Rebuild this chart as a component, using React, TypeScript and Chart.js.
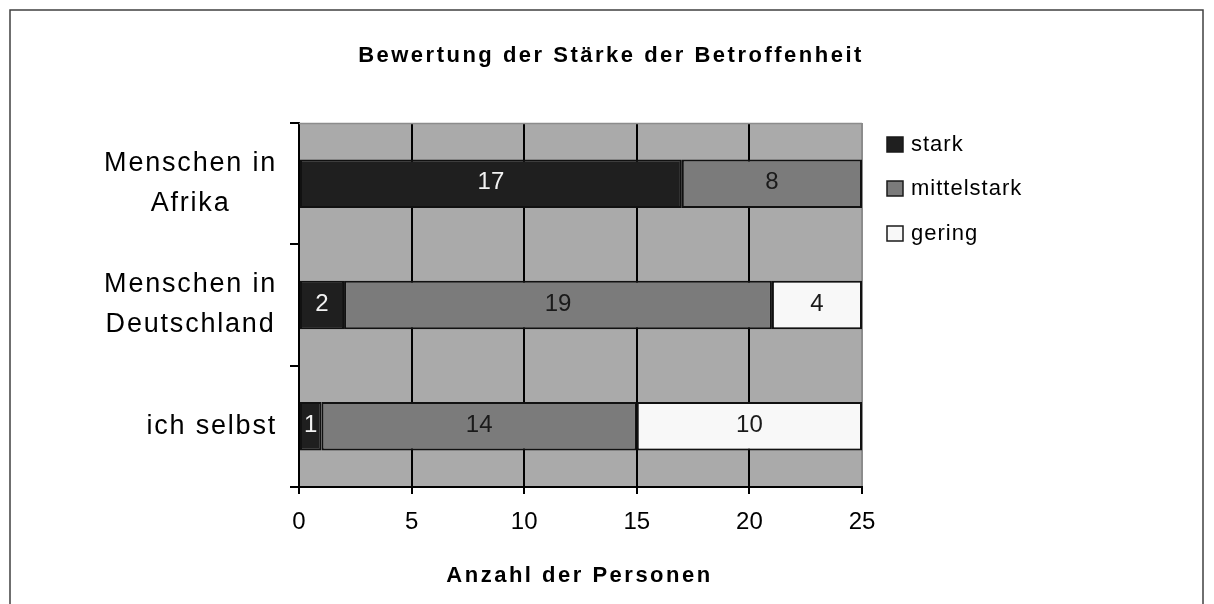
import React, { useEffect, useRef } from 'react';
import { Chart, registerables } from 'chart.js';

Chart.register(...registerables);

const chartTitle = 'Bewertung der Stärke der Betroffenheit';
const axisTitle = 'Anzahl der Personen';
const categories = [['Menschen in', 'Afrika'], ['Menschen in', 'Deutschland'], ['ich selbst']];
const seriesNames = ['stark', 'mittelstark', 'gering'];
const stark = [17, 2, 1];
const mittelstark = [8, 19, 14];
const gering = [null, 4, 10];
const xTicks = [0, 5, 10, 15, 20, 25];

const seriesColors = ['#1f1f1f', '#7b7b7b', '#f8f8f8'];
const labelColors = ['#f2f2f2', '#1a1a1a', '#1a1a1a'];
const PLOT_BG = '#aaaaaa';
const FONT = '"Liberation Sans", Arial, Helvetica, sans-serif';

const deco = {
  id: 'deco',
  beforeDraw(chart: any) {
    const { ctx, chartArea: a } = chart;
    ctx.save();
    ctx.fillStyle = '#ffffff';
    ctx.fillRect(0, 0, chart.width, chart.height);
    ctx.fillStyle = PLOT_BG;
    ctx.fillRect(a.left, a.top, a.right - a.left, a.bottom - a.top);
    ctx.restore();
  },
  afterDatasetsDraw(chart: any) {
    const { ctx } = chart;
    ctx.save();
    ctx.font = `24px ${FONT}`;
    ctx.textAlign = 'center';
    ctx.textBaseline = 'middle';
    chart.data.datasets.forEach((ds: any, di: number) => {
      const meta = chart.getDatasetMeta(di);
      meta.data.forEach((el: any, i: number) => {
        const v = ds.data[i];
        if (v === null || v === undefined || v === 0) return;
        const p = el.getProps(['x', 'base', 'y'], true);
        ctx.fillStyle = labelColors[di];
        ctx.fillText(String(v), (p.x + p.base) / 2, p.y - 1);
      });
    });
    ctx.restore();
  },
  afterDraw(chart: any) {
    const { ctx, chartArea: a } = chart;
    const yScale = chart.scales.y;
    ctx.save();
    // plot top border
    ctx.strokeStyle = '#8c8c8c';
    ctx.lineWidth = 1.5;
    ctx.beginPath();
    ctx.moveTo(a.left, a.top + 0.5);
    ctx.lineTo(a.right, a.top + 0.5);
    ctx.stroke();
    // outer frame
    ctx.strokeStyle = '#404040';
    ctx.lineWidth = 1.5;
    ctx.strokeRect(10, 10, 1193, 700);

    // title
    ctx.fillStyle = '#000';
    ctx.font = `bold 22px ${FONT}`;
    (ctx as any).letterSpacing = '2.5px';
    ctx.textAlign = 'center';
    ctx.textBaseline = 'middle';
    ctx.fillText(chartTitle, 611, 56);
    // axis title
    ctx.fillText(axisTitle, (a.left + a.right) / 2 - 1, 576);

    // category labels
    ctx.font = `27px ${FONT}`;
    (ctx as any).letterSpacing = '1.8px';
    const rightEdge = 277;
    categories.forEach((lines, i) => {
      const yc = yScale.getPixelForValue(i);
      const widths = lines.map((l) => ctx.measureText(l).width);
      const w = Math.max(...widths);
      const cx = rightEdge - w / 2;
      const lh = 40;
      const y0 = yc - ((lines.length - 1) * lh) / 2;
      lines.forEach((l, j) => {
        ctx.fillText(l, cx, y0 + j * lh);
      });
    });

    // legend
    ctx.font = `22px ${FONT}`;
    (ctx as any).letterSpacing = '1px';
    ctx.textAlign = 'left';
    const legendY = [144, 188, 233];
    seriesNames.forEach((n, i) => {
      const y = legendY[i];
      ctx.fillStyle = seriesColors[i];
      ctx.fillRect(887, y - 7, 16, 15);
      ctx.strokeStyle = '#1a1a1a';
      ctx.lineWidth = 1.5;
      ctx.strokeRect(887, y - 7, 16, 15);
      ctx.fillStyle = '#000';
      ctx.fillText(n, 911, y + 1);
    });
    ctx.restore();
  },
};

export default function App() {
  const ref = useRef<HTMLCanvasElement | null>(null);
  useEffect(() => {
    if (!ref.current) return;
    const chart = new Chart(ref.current, {
      type: 'bar',
      data: {
        labels: categories as any,
        datasets: [
          { label: seriesNames[0], data: stark, backgroundColor: seriesColors[0] },
          { label: seriesNames[1], data: mittelstark, backgroundColor: seriesColors[1] },
          { label: seriesNames[2], data: gering as any, backgroundColor: seriesColors[2] },
        ].map((d) => ({
          ...d,
          borderColor: '#111111',
          borderWidth: 2,
          borderSkipped: false,
          barPercentage: 0.4,
          categoryPercentage: 1,
        })),
      },
      options: {
        indexAxis: 'y',
        animation: false,
        responsive: false,
        devicePixelRatio: 1,
        layout: { padding: { top: 123, right: 352, left: 0, bottom: 0 } },
        plugins: {
          legend: { display: false },
          title: { display: false },
          tooltip: { enabled: false },
        },
        scales: {
          x: {
            type: 'linear',
            stacked: true,
            min: xTicks[0],
            max: xTicks[xTicks.length - 1],
            afterBuildTicks(scale: any) {
              scale.ticks = xTicks.map((v) => ({ value: v }));
            },
            ticks: {
              stepSize: 5,
              color: '#000',
              padding: 14,
              font: { size: 24, family: FONT },
            },
            grid: {
              color: (c: any) => (c.index === xTicks.length - 1 ? '#8c8c8c' : '#000'),
              tickColor: '#000',
              lineWidth: 2,
              tickLength: 7,
            },
            border: { display: true, color: '#000', width: 2 },
            afterFit(scale: any) {
              scale.height = 117;
            },
          },
          y: {
            type: 'category',
            stacked: true,
            offset: true,
            ticks: { display: false },
            grid: {
              display: true,
              drawOnChartArea: false,
              drawTicks: true,
              tickLength: 9,
              color: '#000',
              lineWidth: 2,
              offset: true,
            },
            border: { display: true, color: '#000', width: 2 },
            afterFit(scale: any) {
              scale.width = 299;
            },
          },
        },
      },
      plugins: [deco],
    } as any);
    return () => chart.destroy();
  }, []);
  return (
    <div style={{ position: 'fixed', left: 0, top: 0, width: 1214, height: 604 }}>
      <canvas ref={ref} width={1214} height={604} style={{ display: 'block' }} />
    </div>
  );
}
